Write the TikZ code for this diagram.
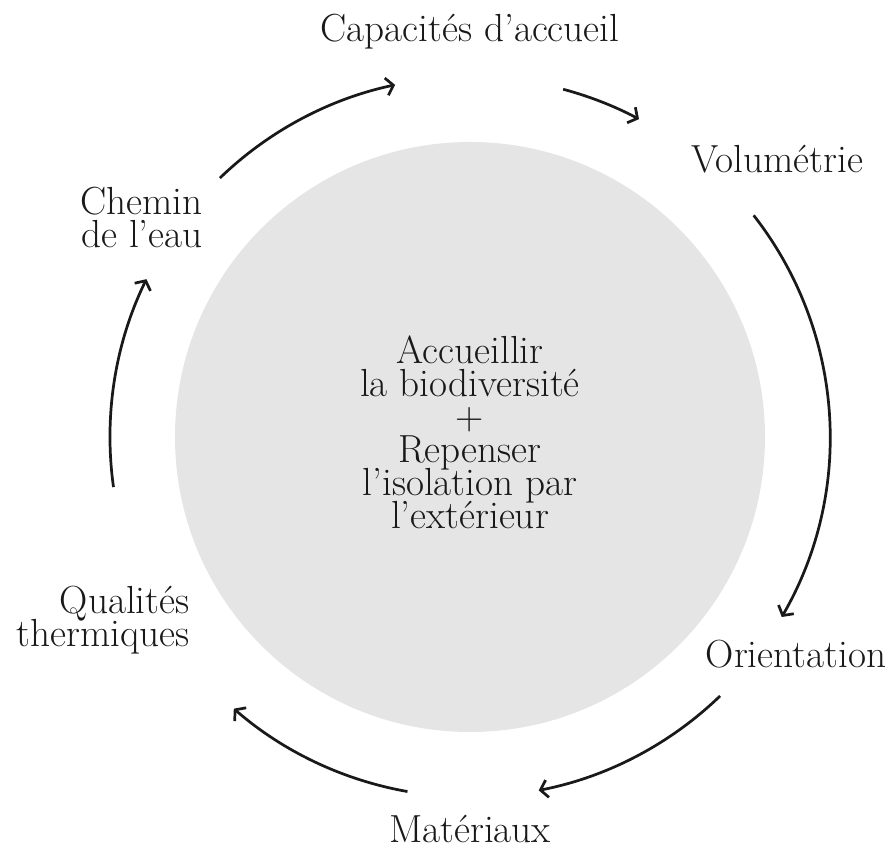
\documentclass[tikz,border=0pt]{standalone}
\usepackage{xcolor}
\usepackage{tikz}
\usetikzlibrary{arrows.meta,positioning}
\definecolor{hubgray}{HTML}{E5E5E5}
\newcommand{\stepfont}{\fontsize{22.3}{18.8}\selectfont\lineskiplimit=-30pt\relax}
\tikzset{
  hub/.style={circle, fill=hubgray, minimum size=11.8cm, inner sep=0pt},
  hubtext/.style={align=center, inner sep=0pt, text=black!90, font=\stepfont},
  steptext/.style={align=center, inner sep=0pt, text=black!90, font=\stepfont},
  line/.style={-{Straight Barb[length=4pt, width=10pt]}, line width=1.55pt, black!90}
}
\begin{document}
\begin{tikzpicture}
  \useasboundingbox (-9.40,-8.30) rectangle (8.46,8.74);
  \node[hub] (hub) at (0,0) {};
  \node[hubtext] (aim) at (0,0.1) {Accueillir\\la biodiversité\\+\\Repenser\\l’isolation par\\l’extérieur};
  \node[steptext, anchor=base] (capa) at (0,7.9) {Capacités d’accueil};
  \node[steptext, anchor=base] (volu) at (6.15,5.28) {Volumétrie};
  \node[steptext, anchor=base] (orient) at (6.52,-4.62) {Orientation};
  \node[steptext, anchor=base] (mater) at (0,-8.12) {Matériaux};
  \node[steptext, align=right, anchor=base east] (qualit) at (-5.60,-4.20) {Qualités\\thermiques};
  \node[steptext, align=right, anchor=base east] (chemin) at (-5.34,3.78) {Chemin\\de l’eau};
  % arc starts
  \coordinate (from1) at (134:7.2);
  \coordinate (from2) at (75:7.2);
  \coordinate (from3) at (38:7.2);
  \coordinate (from4) at (-46:7.2);
  \coordinate (from5) at (-100:7.2);
  \coordinate (from6) at (188:7.2);
  \draw[line] (from1) arc[start angle=134, end angle=102, radius=7.2];
  \draw[line] (from2) arc[start angle=75, end angle=62, radius=7.2];
  \draw[line] (from3) arc[start angle=38, end angle=-30, radius=7.2];
  \draw[line] (from4) arc[start angle=-46, end angle=-79, radius=7.2];
  \draw[line] (from5) arc[start angle=-100, end angle=-131, radius=7.2];
  \draw[line] (from6) arc[start angle=188, end angle=154, radius=7.2];
\end{tikzpicture}
\end{document}
